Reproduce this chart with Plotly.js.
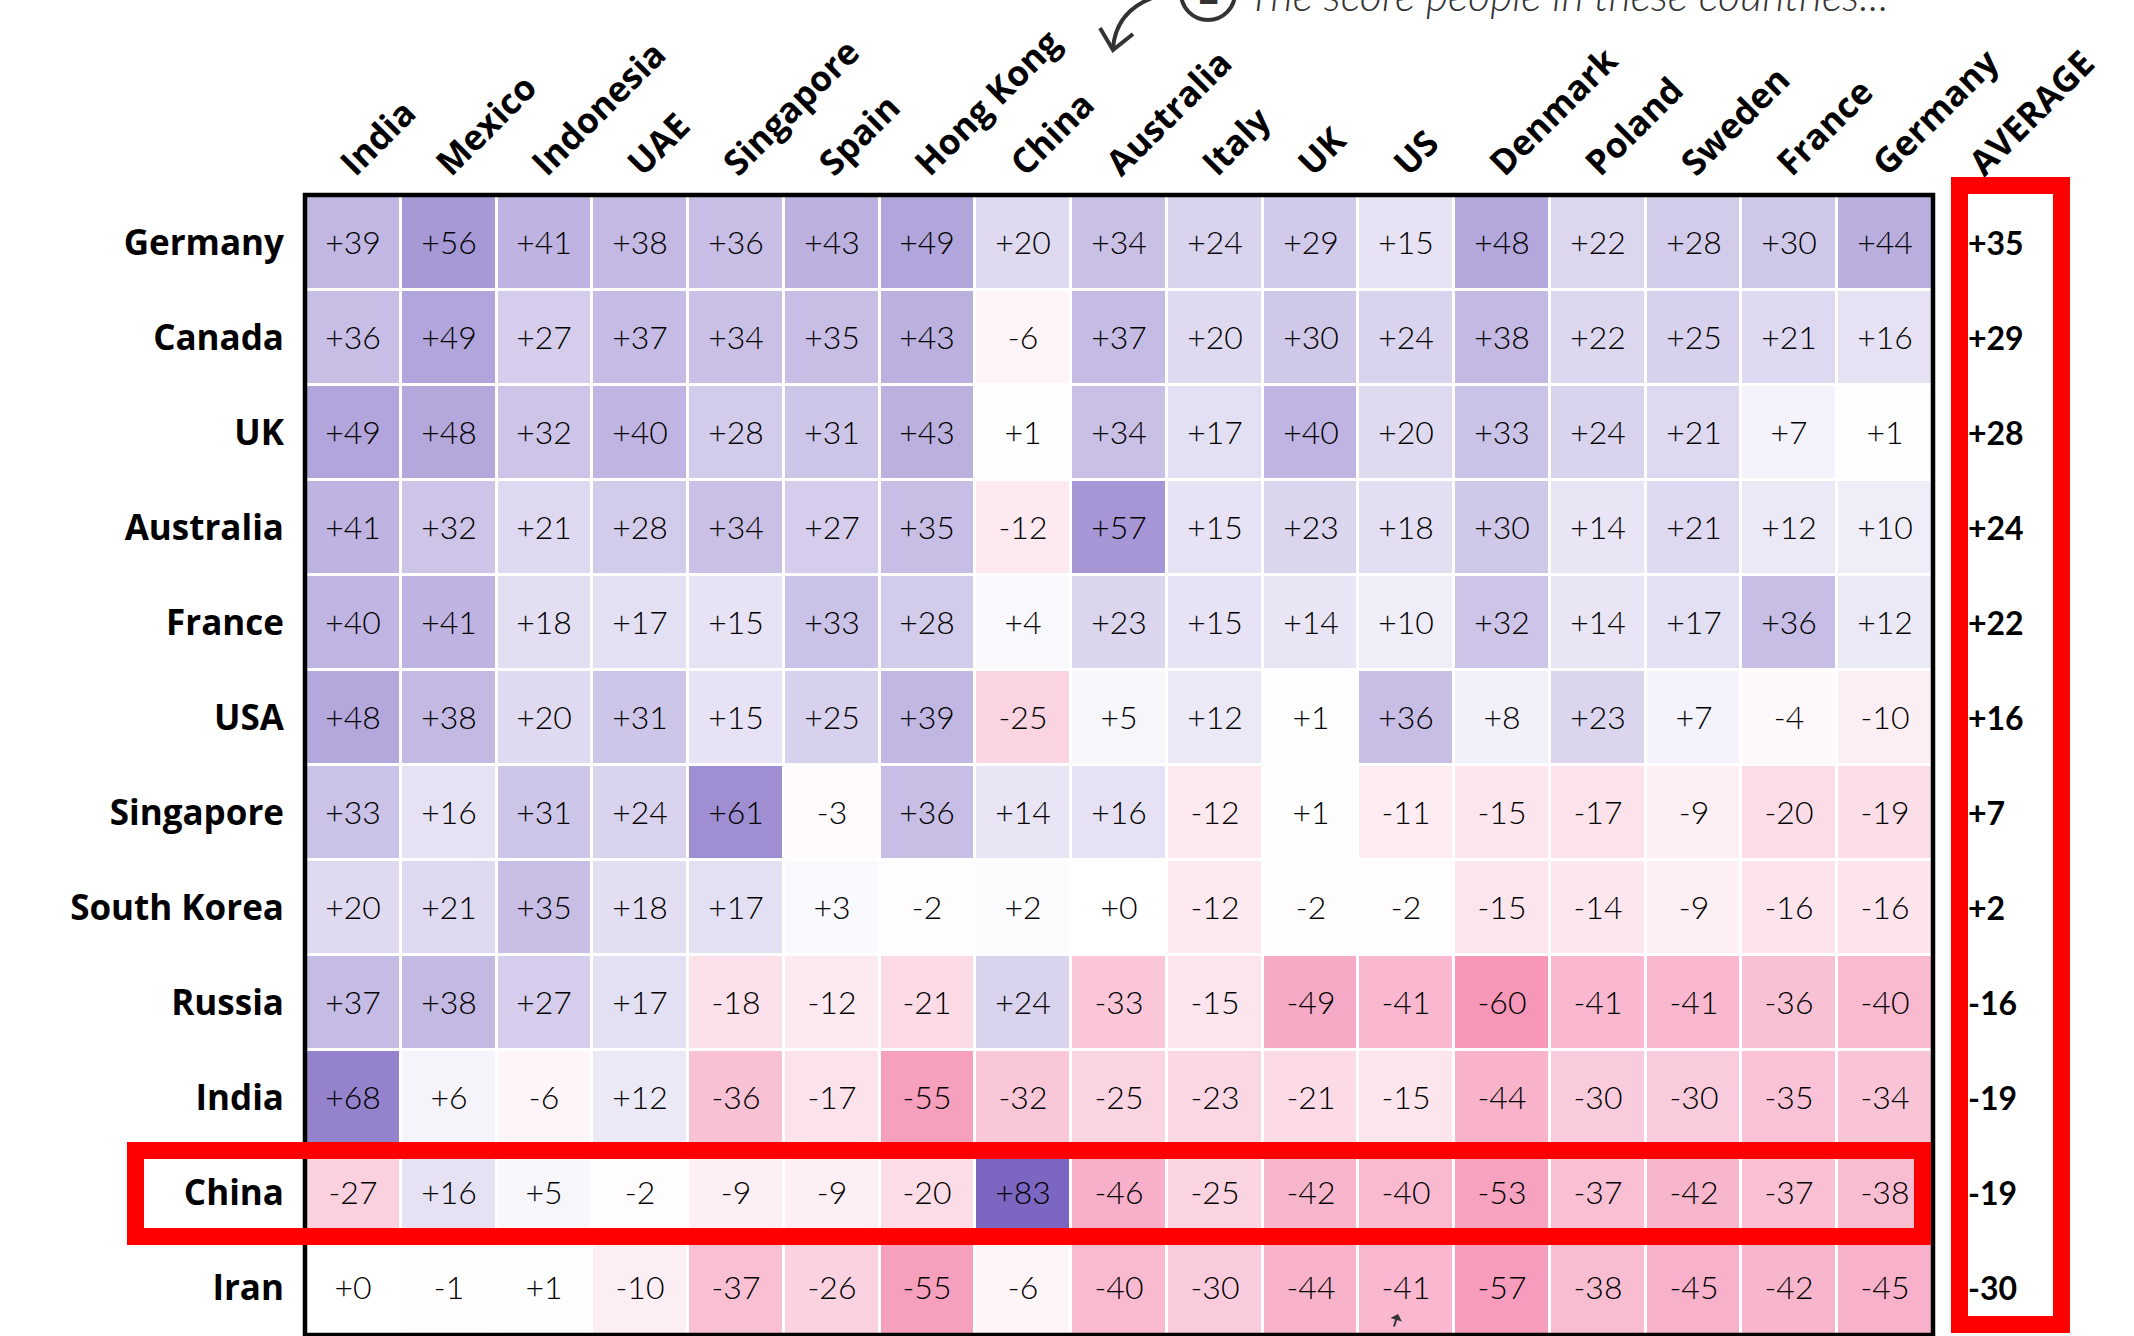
<!DOCTYPE html>
<html><head><meta charset="utf-8">
<script src="https://cdn.plot.ly/plotly-3.0.1.min.js"></script>
<style>html,body{margin:0;padding:0;background:#fff;} #chart{width:2134px;height:1336px;}</style>
</head><body><div id="chart"></div>
<script>
// ---- data ----
const columns = ['India','Mexico','Indonesia','UAE','Singapore','Spain','Hong Kong','China','Australia','Italy','UK','US','Denmark','Poland','Sweden','France','Germany'];
const rows = ['Germany','Canada','UK','Australia','France','USA','Singapore','South Korea','Russia','India','China','Iran'];
const averageLabel = 'AVERAGE';

const germany    = [39,56,41,38,36,43,49,20,34,24,29,15,48,22,28,30,44];
const canada     = [36,49,27,37,34,35,43,-6,37,20,30,24,38,22,25,21,16];
const uk         = [49,48,32,40,28,31,43,1,34,17,40,20,33,24,21,7,1];
const australia  = [41,32,21,28,34,27,35,-12,57,15,23,18,30,14,21,12,10];
const france     = [40,41,18,17,15,33,28,4,23,15,14,10,32,14,17,36,12];
const usa        = [48,38,20,31,15,25,39,-25,5,12,1,36,8,23,7,-4,-10];
const singapore  = [33,16,31,24,61,-3,36,14,16,-12,1,-11,-15,-17,-9,-20,-19];
const southKorea = [20,21,35,18,17,3,-2,2,0,-12,-2,-2,-15,-14,-9,-16,-16];
const russia     = [37,38,27,17,-18,-12,-21,24,-33,-15,-49,-41,-60,-41,-41,-36,-40];
const india      = [68,6,-6,12,-36,-17,-55,-32,-25,-23,-21,-15,-44,-30,-30,-35,-34];
const china      = [-27,16,5,-2,-9,-9,-20,83,-46,-25,-42,-40,-53,-37,-42,-37,-38];
const iran       = [0,-1,1,-10,-37,-26,-55,-6,-40,-30,-44,-41,-57,-38,-45,-42,-45];
const averages   = [35,29,28,24,22,16,7,2,-16,-19,-19,-30];

// ---- build ----
const z = [germany,canada,uk,australia,france,usa,singapore,southKorea,russia,india,china,iran];
const fmt = v => (v >= 0 ? '+' : '-') + Math.abs(v);
const zText = z.map(r => r.map(fmt));
const avgText = averages.map(fmt);
const zAbs = Math.max(...z.flat().map(Math.abs));

const W = 2134, H = 1336;
const M = {l: 305, r: 59, t: 195, b: 1};
const PW = W - M.l - M.r, PH = H - M.t - M.b;
const X = px => (px - M.l) / PW;
const Y = py => (H - M.b - py) / PH;
const mainRight = 1933;

const numFont = {family: 'Lato, sans-serif', size: 32, weight: 300, color: '#000'};
const labelFont = {family: '"Open Sans", sans-serif', size: 35, weight: 700, color: '#000'};
const yRange = [rows.length - 0.5, -0.5];
const avgNudge = 0.045; // aligns the average labels with the row centres

const traces = [
  {
    type: 'heatmap', x: columns, y: rows, z: z, text: zText,
    texttemplate: '%{text}', textfont: numFont,
    colorscale: [[0, 'rgb(242,111,157)'], [0.5, 'rgb(255,255,255)'], [1, 'rgb(125,102,194)']],
    zmin: -zAbs, zmax: zAbs, showscale: false, xgap: 3, ygap: 3, hoverinfo: 'skip'
  },
  {
    type: 'scatter', mode: 'text', x: rows.map(() => averageLabel), y: rows,
    text: avgText, textposition: 'middle right',
    textfont: {family: 'Lato, sans-serif', size: 32, weight: 700, color: '#000'},
    xaxis: 'x2', yaxis: 'y2', cliponaxis: false, hoverinfo: 'skip', showlegend: false
  }
];

const red = '#ff0000';
const dark = '#333333';
const layout = {
  width: W, height: H, margin: M,
  paper_bgcolor: '#fff', plot_bgcolor: '#fff', showlegend: false,
  xaxis: {
    domain: [0, X(mainRight)], type: 'category', side: 'top', range: [-0.5, columns.length - 0.5],
    tickangle: -45, tickfont: labelFont, ticks: '', showgrid: false, zeroline: false, showline: false,
    ticklabelshift: -10, ticklabelstandoff: 4, fixedrange: true
  },
  xaxis2: {
    domain: [X(1968), 1], type: 'category', side: 'top', anchor: 'y', range: [0, 1],
    tickangle: -45, tickfont: labelFont, ticks: '', showgrid: false, zeroline: false, showline: false,
    ticklabelshift: 4, ticklabelstandoff: 4, fixedrange: true
  },
  yaxis: {
    type: 'category', range: yRange, tickfont: labelFont, ticks: '',
    ticklabelstandoff: 20,
    showgrid: false, zeroline: false, showline: false, fixedrange: true
  },
  yaxis2: {
    type: 'category', overlaying: 'y', categoryarray: rows, categoryorder: 'array',
    range: [yRange[0] - avgNudge, yRange[1] - avgNudge], visible: false, fixedrange: true
  },
  shapes: [
    {type: 'rect', xref: 'x domain', yref: 'y domain', x0: 0, x1: 1, y0: 0, y1: 1,
     line: {color: '#000', width: 4.5}, layer: 'above'},
    {type: 'rect', xref: 'paper', yref: 'paper', x0: X(1959.5), x1: X(2061.5), y0: Y(1324.5), y1: Y(185.5),
     line: {color: red, width: 17}, layer: 'above'},
    {type: 'rect', xref: 'paper', yref: 'paper', x0: X(135.5), x1: X(1922.5), y0: Y(1236.5), y1: Y(1150.5),
     line: {color: red, width: 17}, layer: 'above'},
    {type: 'circle', xref: 'paper', yref: 'paper', x0: X(1181), x1: X(1235), y0: Y(20), y1: Y(-34),
     line: {color: dark, width: 4}},
    {type: 'path', xref: 'paper', yref: 'paper',
     path: `M ${X(1152)},${Y(-2)} Q ${X(1116)},${Y(12)} ${X(1113)},${Y(48)}`,
     line: {color: dark, width: 4}},
    {type: 'path', xref: 'paper', yref: 'paper',
     path: `M ${X(1100)},${Y(28)} L ${X(1113)},${Y(50)} L ${X(1133)},${Y(34)}`,
     line: {color: dark, width: 4}}
  ],
  annotations: [
    {xref: 'paper', yref: 'paper', x: X(1246), y: Y(-5), xanchor: 'left', yanchor: 'middle',
     text: 'The score people in these countries...', showarrow: false,
     font: {family: 'Lato, sans-serif', size: 43, weight: 300, style: 'italic', color: dark}},
    {xref: 'paper', yref: 'paper', x: X(1208), y: Y(-8), xanchor: 'center', yanchor: 'middle',
     text: '1', showarrow: false,
     font: {family: '"DejaVu Sans", sans-serif', size: 34, weight: 700, color: dark}},
    {xref: 'paper', yref: 'paper', x: X(1398), y: Y(1314), text: ' ', showarrow: true,
     ax: -7, ay: 26, arrowhead: 1, arrowsize: 1, arrowwidth: 2, arrowcolor: dark}
  ]
};

Plotly.newPlot('chart', traces, layout, {displayModeBar: false, staticPlot: true});
</script>
</body></html>
